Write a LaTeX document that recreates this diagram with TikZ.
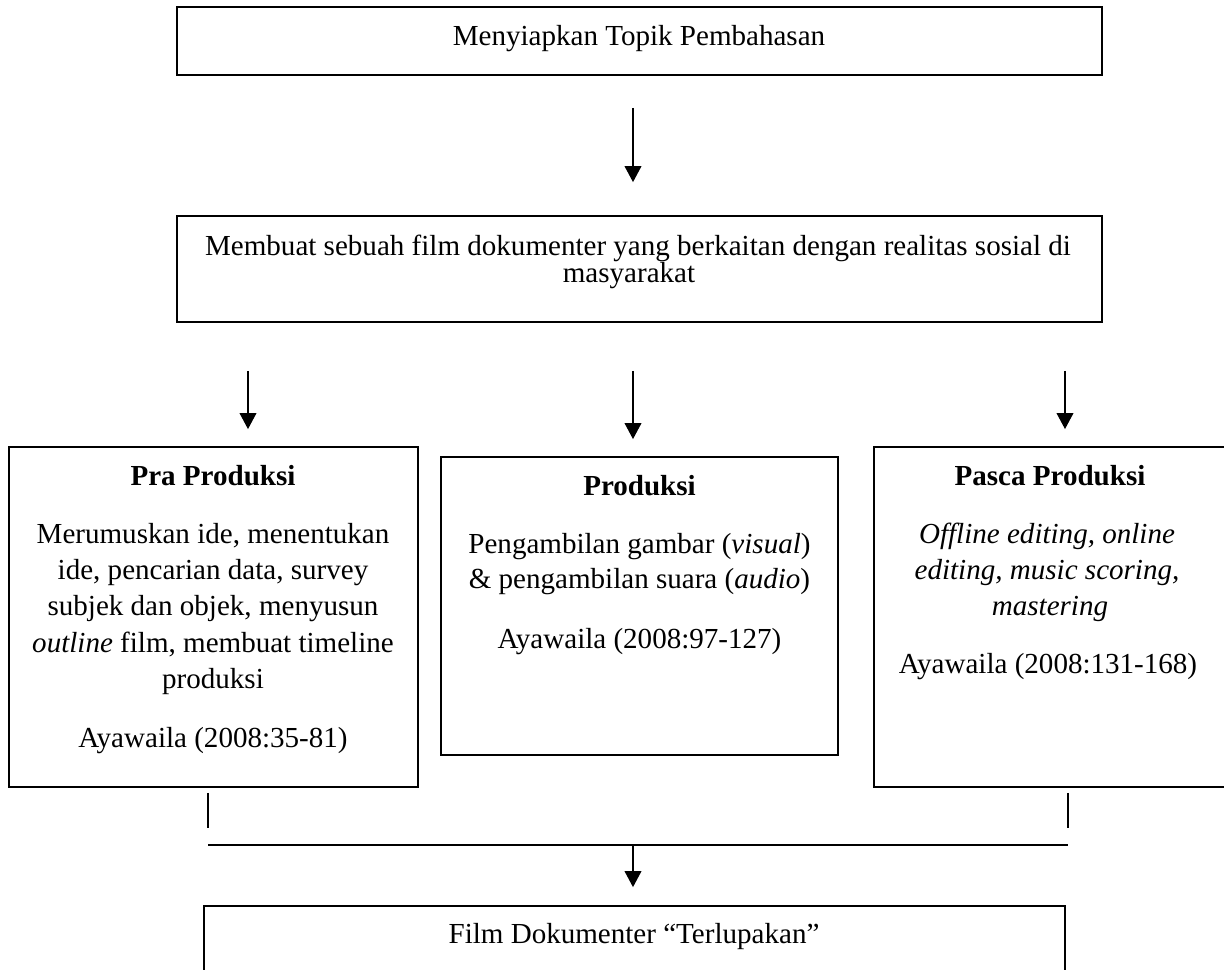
\documentclass[tikz,border=0pt]{standalone}
\usepackage{fontspec}
\setmainfont{Liberation Serif}
\usetikzlibrary{arrows.meta,fit}
\tikzset{
  box/.style={draw, line width=0.8pt, inner sep=0pt, rectangle},
  txt/.style={inner sep=0pt, anchor=base, font=\fontsize{12}{15}\selectfont},
  conn/.style={draw, line width=0.55pt},
  hline/.style={draw, line width=0.8pt},
  arr/.style={draw, line width=0.55pt, -{Triangle[width=6.9pt,length=6.6pt]}}
}
\begin{document}
\begin{tikzpicture}[x=0.413pt,y=-0.413pt]
\clip (0,0) rectangle (1224,970);
% boxes
\node[box, fit={(177,7) (1102,75)}] (top) {};
\node[box, fit={(177,216) (1102,322)}] (b2) {};
\node[box, fit={(9,447) (418,787)}] (pra) {};
\node[box, fit={(441,457) (838,755)}] (prod) {};
\node[box, fit={(874,447) (1226,787)}] (pasca) {};
\node[box, fit={(204,906) (1065,995)}] (fin) {};
% texts
\node[txt] (ttop) at (639,45) {Menyiapkan Topik Pembahasan};
\node[txt] (tb2a) at (638,255) {Membuat sebuah film dokumenter yang berkaitan dengan realitas sosial di};
\node[txt] (tb2b) at (629,282) {masyarakat};
% pra produksi
\node[txt] (p0) at (213,485) {\textbf{Pra Produksi}};
\node[txt] (p1) at (213,543) {Merumuskan ide, menentukan};
\node[txt] (p2) at (213,579) {ide, pencarian data, survey};
\node[txt] (p3) at (213,615) {subjek dan objek, menyusun};
\node[txt] (p4) at (213,652) {\textit{outline} film, membuat timeline};
\node[txt] (p5) at (213,688) {produksi};
\node[txt] (p6) at (213,747) {Ayawaila (2008:35-81)};
% produksi
\node[txt] (q0) at (639.5,495) {\textbf{Produksi}};
\node[txt] (q1) at (639.5,553) {Pengambilan gambar (\textit{visual})};
\node[txt] (q2) at (639.5,588) {\& pengambilan suara (\textit{audio})};
\node[txt] (q3) at (639.5,648) {Ayawaila (2008:97-127)};
% pasca produksi
\node[txt] (r0) at (1050,485) {\textbf{Pasca Produksi}};
\node[txt] (r1) at (1047,543) {\textit{Offline editing, online}};
\node[txt] (r2) at (1047,579) {\textit{editing, music scoring,}};
\node[txt] (r3) at (1050,615) {\textit{mastering}};
\node[txt] (r4) at (1048,673) {Ayawaila (2008:131-168)};
% final
\node[txt] (tfin) at (634,943) {Film Dokumenter “Terlupakan”};
% connector helper coordinates
\coordinate (c1) at (633,0);
\coordinate (cl) at (248,0);
\coordinate (cr) at (1065,0);
\coordinate (vl) at (208,828);
\coordinate (vr) at (1068,828);
\coordinate (hl) at (208,845);
\coordinate (hr) at (1068,845);
\coordinate (hm) at (633,845);
% connectors
\draw[arr, shorten <=13.2pt, shorten >=13.6pt] (top.south -| c1) -- (b2.north -| c1);
\draw[arr, shorten <=19.8pt, shorten >=7pt] (b2.south -| cl) -- (pra.north -| cl);
\draw[arr, shorten <=19.8pt, shorten >=7pt] (b2.south -| c1) -- (prod.north -| c1);
\draw[arr, shorten <=19.8pt, shorten >=7pt] (b2.south -| cr) -- (pasca.north -| cr);
\draw[conn, shorten <=2pt] (pra.south -| vl) -- (vl);
\draw[conn, shorten <=2pt] (pasca.south -| vr) -- (vr);
\draw[hline] (hl) -- (hr);
\draw[arr, shorten >=7.4pt] (hm) -- (fin.north -| hm);
\end{tikzpicture}
\end{document}
